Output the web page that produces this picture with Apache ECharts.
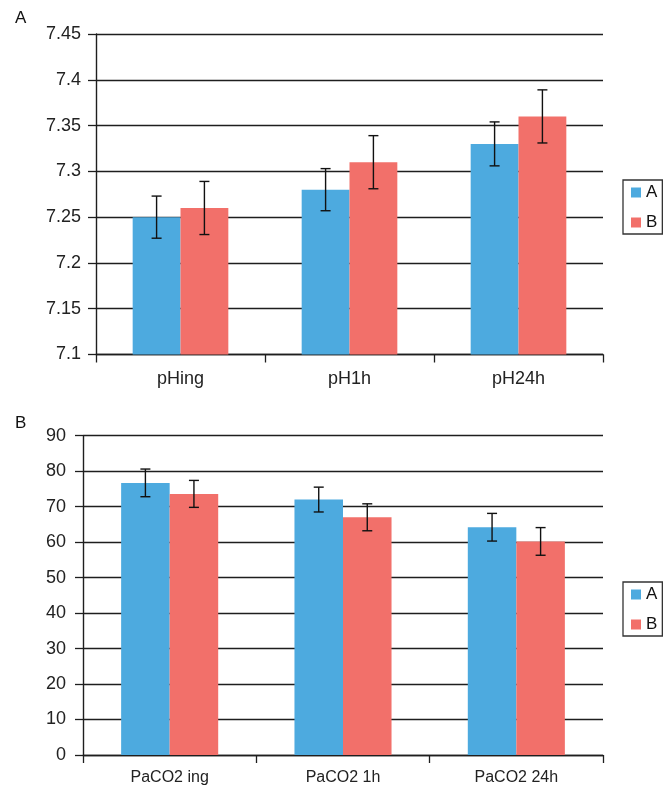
<!DOCTYPE html>
<html>
<head>
<meta charset="utf-8">
<style>
  html, body { margin: 0; padding: 0; background: #fff; }
  #chart { width: 668px; height: 786px; }
</style>
<script src="https://cdn.jsdelivr.net/npm/echarts@6/dist/echarts.min.js"></script>
</head>
<body>
<div id="chart"></div>
<script>
// Panel A: arterial pH
const phCategories = ['pHing', 'pH1h', 'pH24h'];
const phMeanA = [7.25, 7.28, 7.33];
const phMeanB = [7.26, 7.31, 7.36];
const phErrA = [0.023, 0.023, 0.024];
const phErrB = [0.029, 0.029, 0.029];
const phTicks = [7.1, 7.15, 7.2, 7.25, 7.3, 7.35, 7.4, 7.45];

// Panel B: arterial CO2 partial pressure
const pacoCategories = ['PaCO2 ing', 'PaCO2 1h', 'PaCO2 24h'];
const pacoMeanA = [76.7, 72.0, 64.2];
const pacoMeanB = [73.6, 67.0, 60.2];
const pacoErrA = [3.9, 3.5, 3.9];
const pacoErrB = [3.8, 3.8, 3.9];
const pacoTicks = [0, 10, 20, 30, 40, 50, 60, 70, 80, 90];

const groupNames = ['A', 'B'];
const colorA = '#4DAADF';
const colorB = '#F2706A';
const FONT = 'Liberation Sans, Arial, Helvetica, sans-serif';
const lineColor = '#1e1e1e';

const BAR_FRAC_TOP = 0.283;
const BAR_FRAC_BOTTOM = 0.28;

function errData(means, errs) {
  return means.map((m, i) => [i, m - errs[i], m + errs[i]]);
}

// Error bars centred on each bar of a two-bar group
function errRenderer(frac, side) {
  return function (params, api) {
    const idx = api.value(0);
    const catW = api.size([1, 0])[0];
    const dx = side * catW * frac / 2;
    const lo = api.coord([idx, api.value(1)]);
    const hi = api.coord([idx, api.value(2)]);
    const x = lo[0] + dx;
    const cap = 5;
    const style = { stroke: '#111', lineWidth: 1.4 };
    return {
      type: 'group',
      children: [
        { type: 'line', shape: { x1: x, y1: hi[1], x2: x, y2: lo[1] }, style },
        { type: 'line', shape: { x1: x - cap, y1: hi[1], x2: x + cap, y2: hi[1] }, style },
        { type: 'line', shape: { x1: x - cap, y1: lo[1], x2: x + cap, y2: lo[1] }, style }
      ]
    };
  };
}

function valueAxis(gridIndex, ticks, margin, fmt) {
  return {
    type: 'value',
    gridIndex,
    min: ticks[0],
    max: ticks[ticks.length - 1],
    interval: ticks[1] - ticks[0],
    axisLine: { show: true, lineStyle: { color: lineColor, width: 1.4 } },
    axisTick: { show: true, length: 8, lineStyle: { color: lineColor, width: 1.3 } },
    axisLabel: { margin, color: '#222', fontSize: 18, fontFamily: FONT, formatter: fmt },
    splitLine: { show: true, lineStyle: { color: lineColor, width: 1.3 } }
  };
}

function categoryAxis(gridIndex, cats, fontSize, margin) {
  return {
    type: 'category',
    gridIndex,
    data: cats,
    axisLine: { show: true, lineStyle: { color: lineColor, width: 1.4 } },
    axisTick: { show: true, length: 8, lineStyle: { color: lineColor, width: 1.3 } },
    axisLabel: { margin, color: '#222', fontSize, fontFamily: FONT }
  };
}

function legendAt(top, seriesNames) {
  return {
    orient: 'vertical',
    left: 623,
    top,
    data: seriesNames,
    icon: 'rect',
    itemWidth: 10,
    itemHeight: 10,
    itemGap: 13,
    padding: [4, 5, 3, 8],
    borderColor: '#333',
    borderWidth: 1.3,
    textStyle: { fontSize: 17, fontFamily: FONT, color: '#111', lineHeight: 17 },
    formatter: n => n.split(' ').pop(),
    selectedMode: false
  };
}

const chart = echarts.init(document.getElementById('chart'), null, { renderer: 'canvas' });

chart.setOption({
  animation: false,
  backgroundColor: '#fff',
  title: [
    { text: groupNames[0], left: 15, top: 10, padding: 0, textStyle: { fontSize: 17, fontWeight: 'normal', fontFamily: FONT, color: '#111' } },
    { text: groupNames[1], left: 15, top: 415, padding: 0, textStyle: { fontSize: 17, fontWeight: 'normal', fontFamily: FONT, color: '#111' } }
  ],
  grid: [
    { left: 96, right: 65, top: 34, height: 320.5 },
    { left: 83, right: 65, top: 435.7, height: 321.3 }
  ],
  legend: [
    legendAt(180, ['pH A', 'pH B']),
    legendAt(582, ['PaCO2 A', 'PaCO2 B'])
  ],
  xAxis: [
    categoryAxis(0, phCategories, 18, 16),
    categoryAxis(1, pacoCategories, 16, 15)
  ],
  yAxis: [
    valueAxis(0, phTicks, 15, v => String(+v.toFixed(2))),
    valueAxis(1, pacoTicks, 17, v => String(Math.round(v)))
  ],
  series: [
    { name: 'pH A', type: 'bar', xAxisIndex: 0, yAxisIndex: 0, data: phMeanA,
      barWidth: (BAR_FRAC_TOP * 100) + '%', barGap: '0%', itemStyle: { color: colorA } },
    { name: 'pH B', type: 'bar', xAxisIndex: 0, yAxisIndex: 0, data: phMeanB,
      barWidth: (BAR_FRAC_TOP * 100) + '%', barGap: '0%', itemStyle: { color: colorB } },
    { name: 'PaCO2 A', type: 'bar', xAxisIndex: 1, yAxisIndex: 1, data: pacoMeanA,
      barWidth: (BAR_FRAC_BOTTOM * 100) + '%', barGap: '0%', itemStyle: { color: colorA } },
    { name: 'PaCO2 B', type: 'bar', xAxisIndex: 1, yAxisIndex: 1, data: pacoMeanB,
      barWidth: (BAR_FRAC_BOTTOM * 100) + '%', barGap: '0%', itemStyle: { color: colorB } },
    { type: 'custom', xAxisIndex: 0, yAxisIndex: 0, data: errData(phMeanA, phErrA),
      renderItem: errRenderer(BAR_FRAC_TOP, -1), z: 10, silent: true },
    { type: 'custom', xAxisIndex: 0, yAxisIndex: 0, data: errData(phMeanB, phErrB),
      renderItem: errRenderer(BAR_FRAC_TOP, 1), z: 10, silent: true },
    { type: 'custom', xAxisIndex: 1, yAxisIndex: 1, data: errData(pacoMeanA, pacoErrA),
      renderItem: errRenderer(BAR_FRAC_BOTTOM, -1), z: 10, silent: true },
    { type: 'custom', xAxisIndex: 1, yAxisIndex: 1, data: errData(pacoMeanB, pacoErrB),
      renderItem: errRenderer(BAR_FRAC_BOTTOM, 1), z: 10, silent: true }
  ]
});
</script>
</body>
</html>
